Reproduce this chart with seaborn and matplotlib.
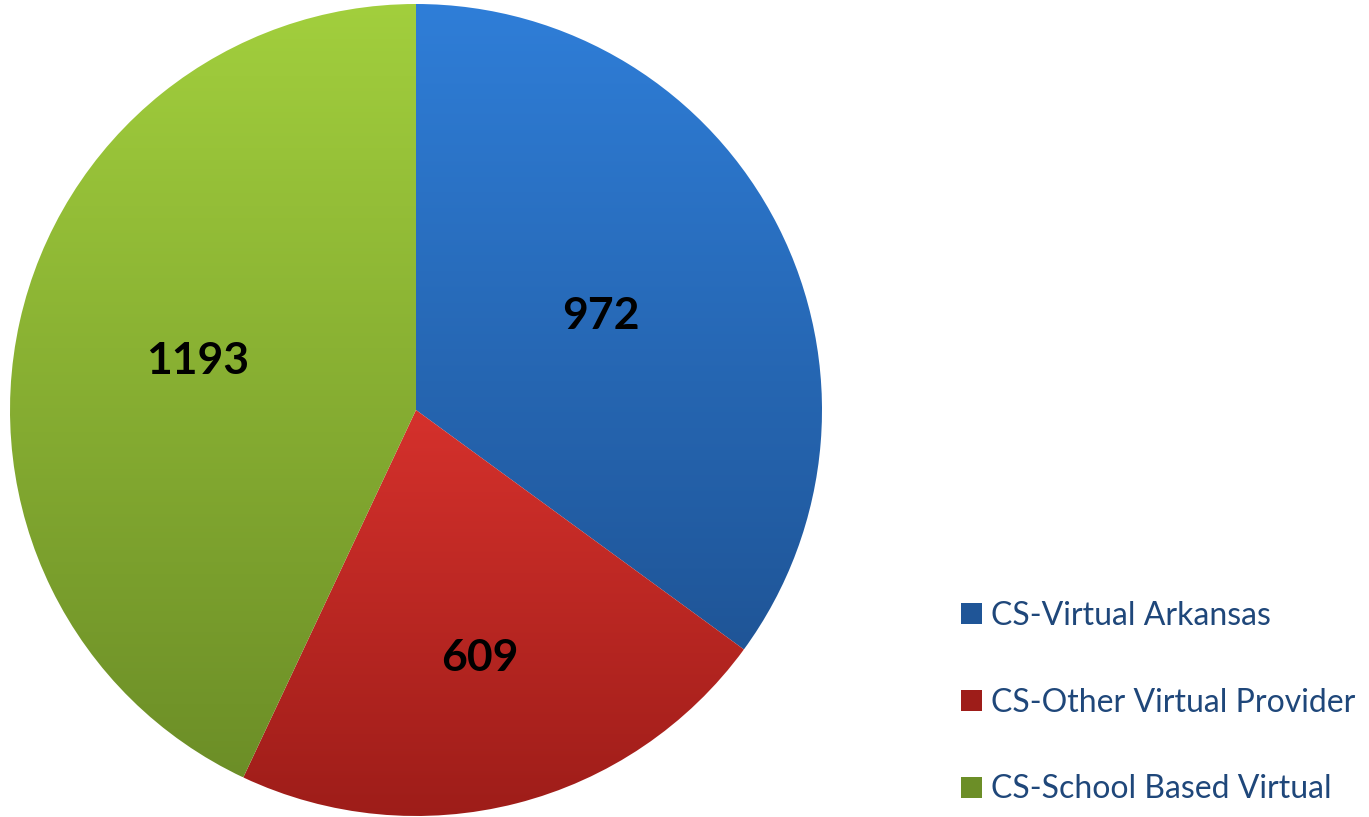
import numpy as np
import seaborn as sns
import matplotlib.pyplot as plt
from matplotlib.colors import LinearSegmentedColormap
from matplotlib.patches import Patch

sns.set_theme(style="white")
plt.rcParams['font.family'] = ['Lato', 'DejaVu Sans']

categories = ['CS-Virtual Arkansas', 'CS-Other Virtual Provider', 'CS-School Based Virtual']
counts = [972, 609, 1193]
top_colors = ['#2F7ED8', '#D5312C', '#A2CF3D']
bottom_colors = ['#1F5597', '#9E1D19', '#6C8E27']
label_radius = [0.51, 0.63, 0.55]

fig = plt.figure(figsize=(13.69, 8.17), dpi=100)
ax = fig.add_axes([10 / 1369, 1 / 817, 812 / 1369, 812 / 817])

wedges, _ = ax.pie(counts, startangle=90, counterclock=False, radius=1.0,
                   colors=top_colors, wedgeprops=dict(linewidth=0))
ax.set_xlim(-1, 1)
ax.set_ylim(-1, 1)
ax.set_aspect('equal')
ax.axis('off')

# vertical gradient fill in each slice, clipped to the wedge
for w, c_top, c_bot in zip(wedges, top_colors, bottom_colors):
    ext = w.get_path().get_extents()
    cmap = LinearSegmentedColormap.from_list('g', [c_bot, c_top])
    grad = np.linspace(0, 1, 256).reshape(-1, 1)
    im = ax.imshow(grad, cmap=cmap, origin='lower', aspect='auto',
                   extent=[ext.x0, ext.x1, ext.y0, ext.y1], zorder=2)
    im.set_clip_path(w)
    w.set_facecolor('none')

for w, val, r in zip(wedges, counts, label_radius):
    ang = np.deg2rad((w.theta1 + w.theta2) / 2)
    ax.text(r * np.cos(ang), r * np.sin(ang), str(val), ha='center', va='center',
            fontsize=32, fontweight='bold', color='black', zorder=5)

handles = [Patch(facecolor=c, edgecolor='none') for c in bottom_colors]
leg = fig.legend(handles, categories, loc='upper left',
                 bbox_to_anchor=(932 / 1369, 1 - 572 / 817),
                 frameon=False, fontsize=23, labelspacing=1.78,
                 handlelength=0.65, handleheight=0.65, handletextpad=0.3)
for t in leg.get_texts():
    t.set_color('#1F477A')

fig.savefig('out.png', dpi=100)
